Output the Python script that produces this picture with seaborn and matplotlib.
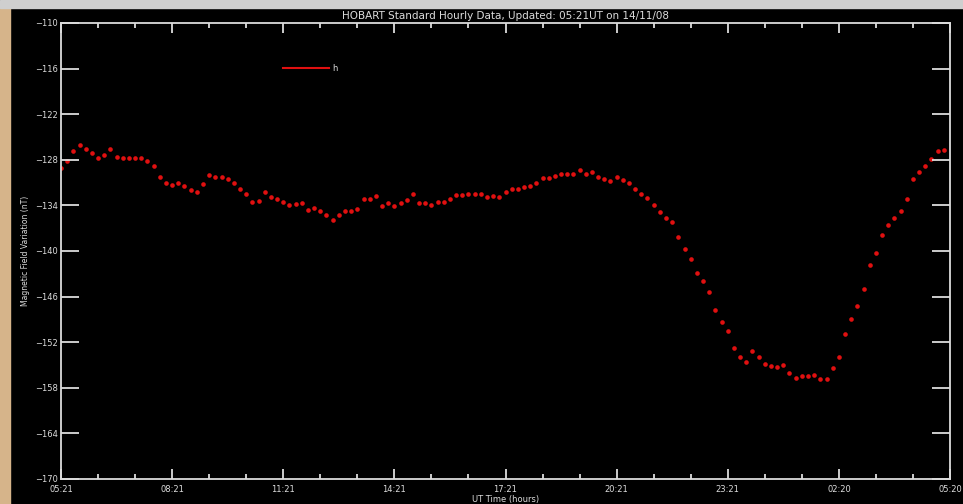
import numpy as np
import matplotlib
matplotlib.use("Agg")
import matplotlib.pyplot as plt
from matplotlib.lines import Line2D
from matplotlib.patches import Rectangle
import seaborn as sns

# 10-minute samples, hours since 05:21 UT
minutes = np.arange(0, 1440, 10)

h = [
    -129.1, -128.2, -126.8, -126.1, -126.6, -127.1, -127.7, -127.4, -126.6, -127.6,
    -127.8, -127.8, -127.7, -127.8, -128.2, -128.8, -130.2, -131.0, -131.3, -131.1,
    -131.4, -132.0, -132.3, -131.2, -130.0, -130.2, -130.3, -130.5, -131.0, -131.8,
    -132.5, -133.5, -133.4, -132.2, -132.9, -133.1, -133.6, -134.0, -133.8, -133.7,
    -134.6, -134.3, -134.7, -135.3, -135.9, -135.3, -134.8, -134.7, -134.5, -133.1,
    -133.1, -132.7, -134.1, -133.7, -134.1, -133.7, -133.3, -132.5, -133.7, -133.7,
    -133.9, -133.5, -133.6, -133.2, -132.6, -132.6, -132.5, -132.5, -132.5, -132.9,
    -132.8, -132.9, -132.2, -131.8, -131.8, -131.6, -131.5, -131.0, -130.4, -130.4,
    -130.1, -129.9, -129.9, -129.9, -129.4, -129.9, -129.6, -130.3, -130.5, -130.8,
    -130.2, -130.7, -131.1, -131.8, -132.5, -133.0, -133.9, -134.9, -135.6, -136.2,
    -138.1, -139.8, -141.1, -142.9, -143.9, -145.4, -147.7, -149.3, -150.5, -152.7,
    -154.0, -154.6, -153.2, -153.9, -154.9, -155.1, -155.2, -155.0, -156.0, -156.7,
    -156.4, -156.4, -156.3, -156.8, -156.8, -155.4, -153.9, -150.9, -148.9, -147.2,
    -145.0, -141.9, -140.2, -137.9, -136.6, -135.7, -134.7, -133.2, -130.5, -129.6,
    -128.8, -127.9, -126.8, -126.7,
]

x_ticks = [0, 3, 6, 9, 12, 15, 18, 21, 24]
x_labels = ["05:21", "08:21", "11:21", "14:21", "17:21", "20:21", "23:21", "02:20", "05:20"]
y_ticks = [-170, -164, -158, -152, -146, -140, -134, -128, -122, -116, -110]

fg = "#dcdcdc"
red = "#e01010"

plt.rcParams["font.family"] = ["DejaVu Sans"]

fig = plt.figure(figsize=(9.63, 5.04), dpi=100, facecolor="black")
ax = fig.add_axes([61 / 963, 25 / 504, 889 / 963, 456 / 504], facecolor="black")

# screenshot frame bits
fig.patches.append(Rectangle((0, 0), 10 / 963, 1 - 4 / 504, transform=fig.transFigure,
                             color="#d6b48a", zorder=0))
fig.patches.append(Rectangle((0, 1 - 8 / 504), 1, 8 / 504, transform=fig.transFigure,
                             color="#cfcfcf", zorder=0))

sns.scatterplot(x=minutes / 60, y=h, ax=ax, color=red, s=11, linewidth=0)

ax.set_xlim(0, 24)
ax.set_ylim(-170, -110)

ax.set_xticks(x_ticks)
ax.set_xticklabels(x_labels)
ax.set_xticks(np.arange(0, 25, 1), minor=True)
ax.set_yticks(y_ticks)

for s in ax.spines.values():
    s.set_color(fg)
    s.set_linewidth(1.3)

ax.tick_params(axis="x", which="major", direction="in", length=7, width=1.3,
               top=True, bottom=True, colors=fg, labelsize=6, pad=4)
ax.tick_params(axis="x", which="minor", direction="in", length=3.5, width=1.3,
               top=True, bottom=True, colors=fg)
ax.tick_params(axis="y", which="major", direction="in", length=13, width=1.3,
               left=True, right=True, colors=fg, labelsize=6, pad=2)

ax.set_title("HOBART Standard Hourly Data, Updated: 05:21UT on 14/11/08",
             color=fg, fontsize=7.5, pad=3)
ax.set_xlabel("UT Time (hours)", color=fg, fontsize=6, labelpad=1)
ax.set_ylabel("Magnetic Field Variation (nT)", color=fg, fontsize=5.5)
ax.yaxis.set_label_coords(-0.035, 0.5)

handle = Line2D([0], [0], color=red, linewidth=1.5)
ax.legend([handle], ["h"], loc="center left", bbox_to_anchor=(0.25, 0.901),
          frameon=False, fontsize=6, labelcolor=fg, handlelength=5.5,
          handletextpad=0.4, borderpad=0, borderaxespad=0)

plt.savefig("out.png", dpi=100, facecolor=fig.get_facecolor())
